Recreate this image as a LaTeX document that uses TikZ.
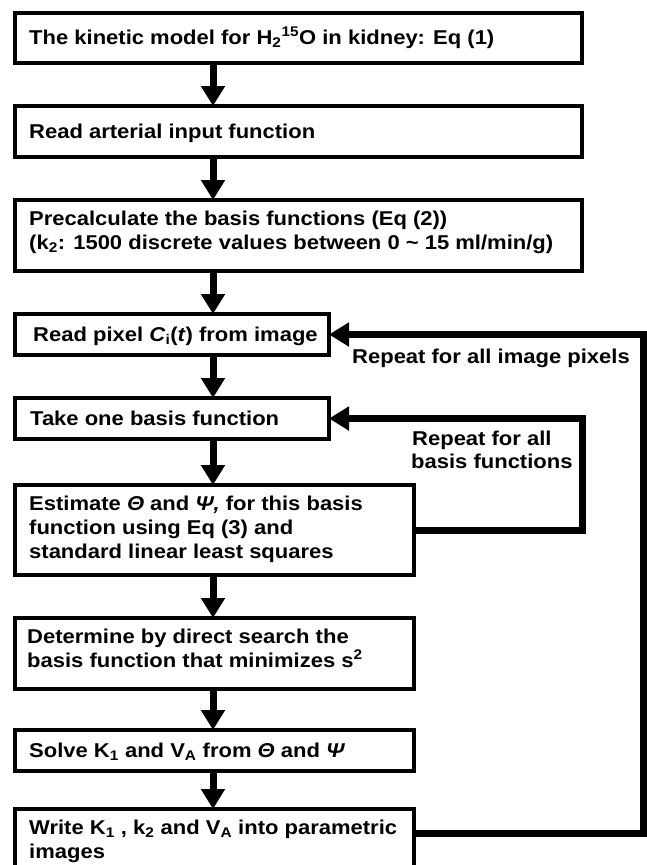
\documentclass[tikz,border=0pt]{standalone}
\usepackage{fontspec}
\setmainfont{Liberation Sans}[FakeStretch=1.1]
\usetikzlibrary{arrows.meta}
\begin{document}
\begin{tikzpicture}[x=1pt,y=-1pt,
  box/.style={draw, line width=3.5pt, inner sep=0pt, outer sep=0pt, rectangle, anchor=north west},
  txt/.style={anchor=base west, inner sep=0pt, font=\fontsize{20}{24}\selectfont\bfseries},
  mainarrow/.style={line width=7pt, -{Triangle[width=23pt,length=20pt]}},
  looparrow/.style={line width=7pt, line join=miter, -{Triangle[width=23pt,length=20pt]}}]
\path[use as bounding box, fill=white] (0,0) rectangle (647,865);
\clip (0,0) rectangle (647,865);
% boxes
\node[box, minimum width=567pt, minimum height=50pt] (b1) at (15,13) {};
\node[box, minimum width=567pt, minimum height=51pt] (b2) at (15,106) {};
\node[box, minimum width=567pt, minimum height=71pt] (b3) at (15,200) {};
\node[box, minimum width=314pt, minimum height=41pt] (b4) at (15,314) {};
\node[box, minimum width=314pt, minimum height=41pt] (b5) at (15,398) {};
\node[box, minimum width=399pt, minimum height=90pt] (b6) at (15,485) {};
\node[box, minimum width=399pt, minimum height=71pt] (b7) at (15,618) {};
\node[box, minimum width=399pt, minimum height=41pt] (b8) at (15,730) {};
\node[box, minimum width=399pt, minimum height=66pt] (b9) at (15,809) {};
% texts
\node[txt] (t1) at (29,44.5) {The kinetic model for H\textsubscript{2}\textsuperscript{15}O in kidney: Eq (1)};
\node[txt] (t2) at (29,138) {Read arterial input function};
\node[txt] (t3a) at (29,225) {Precalculate the basis functions (Eq (2))};
\node[txt] (t3b) at (29,249) {(k\textsubscript{2}: 1500 discrete values between 0 \textasciitilde{} 15 ml/min/g)};
\node[txt] (t4) at (33,341) {Read pixel \textit{C}\textsubscript{i}(\textit{t}) from image};
\node[txt] (t5) at (30,425) {Take one basis function};
\node[txt] (t6a) at (29,510) {Estimate \textit{Θ} and \textit{Ψ,} for this basis};
\node[txt] (t6b) at (29,534) {function using Eq (3) and};
\node[txt] (t6c) at (29,558) {standard linear least squares};
\node[txt] (t7a) at (27,643) {Determine by direct search the};
\node[txt] (t7b) at (27,667) {basis function that minimizes s\textsuperscript{2}};
\node[txt] (t8) at (29,757) {Solve K\textsubscript{1} and V\textsubscript{A} from \textit{Θ} and \textit{Ψ}};
\node[txt] (t9a) at (29,834) {Write K\textsubscript{1} , k\textsubscript{2} and V\textsubscript{A} into parametric};
\node[txt] (t9b) at (29,858) {images};
% loop labels
\node[txt] (l1) at (352,363) {Repeat for all image pixels};
\node[txt] (l2a) at (412,445) {Repeat for all};
\node[txt] (l2b) at (411,468) {basis functions};
% main arrows
\coordinate (ax) at (213,0);
\draw[mainarrow] (b1.south -| ax) -- (b2.north -| ax);
\draw[mainarrow] (b2.south -| ax) -- (b3.north -| ax);
\draw[mainarrow] (b3.south -| ax) -- (b4.north -| ax);
\draw[mainarrow] (b4.south -| ax) -- (b5.north -| ax);
\draw[mainarrow] (b5.south -| ax) -- (b6.north -| ax);
\draw[mainarrow] (b6.south -| ax) -- (b7.north -| ax);
\draw[mainarrow] (b7.south -| ax) -- (b8.north -| ax);
\draw[mainarrow] (b8.south -| ax) -- (b9.north -| ax);
% loops
\coordinate (c1) at (582,530);
\coordinate (c2) at (582,418.5);
\draw[looparrow] (b6.east) -- (c1) -- (c2) -- (b5.east |- c2);
\coordinate (c3) at (643,833);
\coordinate (c4) at (643,334.5);
\draw[looparrow] (b9.east |- c3) -- (c3) -- (c4) -- (b4.east |- c4);
\end{tikzpicture}
\end{document}
